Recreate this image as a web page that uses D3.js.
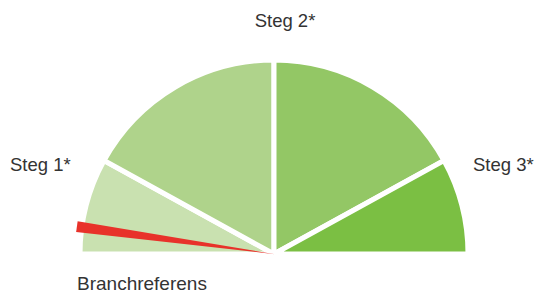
<!DOCTYPE html>
<html><head><meta charset="utf-8">
<script src="https://cdn.jsdelivr.net/npm/d3@7"></script>
<style>body{margin:0;background:#fff}svg{display:block}</style>
</head><body>
<svg id="c" width="534" height="293"></svg>
<script>
const segments = ["Steg 1", "Steg 2a", "Steg 2b", "Steg 3"];
const segmentValues = [16, 34, 34, 16];
const segmentColors = ["#c9e1b0", "#afd38b", "#93c765", "#7bbf43"];
const labels = ["Steg 1*", "Steg 2*", "Steg 3*"];
const referenceLabel = "Branchreferens";
const referenceValue = 4.4;

const svg = d3.select("#c");
const cx = 274, cy = 254, R = 194;
const total = d3.sum(segmentValues);
const angle = d3.scaleLinear().domain([0, total]).range([-Math.PI/2, Math.PI/2]);

const pie = d3.pie().sort(null).value(d => d).startAngle(-Math.PI/2).endAngle(Math.PI/2);
const arc = d3.arc().innerRadius(0).outerRadius(R);
const g = svg.append("g").attr("transform", `translate(${cx},${cy})`);
g.selectAll("path.seg").data(pie(segmentValues)).join("path")
  .attr("class","seg")
  .attr("d", arc)
  .attr("fill", (d,i) => segmentColors[i])
  .attr("stroke", "#fff").attr("stroke-width", 5).attr("stroke-linejoin","miter");

// needle
const a = angle(referenceValue);
const L = 199, hw = 5.5;
const tipX = L*Math.sin(a), tipY = -L*Math.cos(a);
const px = Math.cos(a)*hw, py = Math.sin(a)*hw;
g.append("path")
  .attr("d", `M${-1*Math.sin(a)},${1*Math.cos(a)} L${tipX+px},${tipY+py} L${tipX-px},${tipY-py} Z`)
  .attr("fill", "#e8322a");

const font = "Liberation Sans, Arial, sans-serif";
const txt = [
  {t: labels[0], x: 10, y: 171, a: "start", s: 18.5},
  {t: labels[1], x: 285, y: 27, a: "middle", s: 18.5},
  {t: labels[2], x: 473, y: 171, a: "start", s: 18.5},
  {t: referenceLabel, x: 77, y: 290, a: "start", s: 19}
];
svg.selectAll("text.lbl").data(txt).join("text")
  .attr("class","lbl")
  .attr("x", d => d.x).attr("y", d => d.y)
  .attr("text-anchor", d => d.a)
  .attr("font-family", font).attr("font-size", d => d.s)
  .attr("fill", "#333")
  .text(d => d.t);
</script>
</body></html>
